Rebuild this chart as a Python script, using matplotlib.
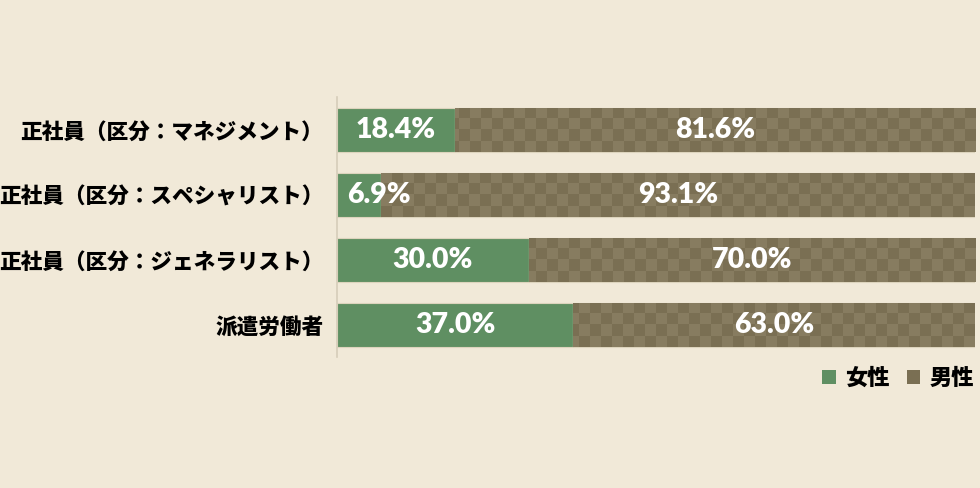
import matplotlib
matplotlib.use('Agg')
import matplotlib.pyplot as plt
import numpy as np

plt.rcParams['font.family'] = ['Noto Sans CJK JP', 'DejaVu Sans']

# データ
categories = ['正社員（区分：マネジメント）', '正社員（区分：スペシャリスト）',
              '正社員（区分：ジェネラリスト）', '派遣労働者']
female = [18.4, 6.9, 30.0, 37.0]
male = [81.6, 93.1, 70.0, 63.0]
series_names = ['女性', '男性']

bg = '#f1e9d8'
green = '#5f8f62'
dark = '#7a6f53'
light = '#877c60'

fig = plt.figure(figsize=(9.8, 4.88), dpi=100, facecolor=bg)
ax = fig.add_axes([0.344, 0.268, 0.651, 0.533], facecolor=bg)

y = np.arange(len(categories))[::-1]
h = 0.68
bars_f = ax.barh(y, female, height=h, color=green, edgecolor='#ddd4bd', linewidth=0.8, label=series_names[0])
bars_m = ax.barh(y, male, left=female, height=h, color=light, edgecolor='#ddd4bd', linewidth=0.8, label=series_names[1])

# 男性のバーは市松模様
nx, ny = 58, 24
checker = (np.add.outer(np.arange(ny), np.arange(nx)) % 2).astype(float)
cmap = matplotlib.colors.ListedColormap([dark, light])
for b in bars_m:
    im = ax.imshow(checker, cmap=cmap, extent=(0, 100, -0.5, 3.5), aspect='auto',
                   interpolation='nearest', zorder=b.get_zorder() + 0.1)
    im.set_clip_path(b)

num_font = dict(color='white', fontsize=20.5, fontweight='heavy',
                family=['Lato', 'DejaVu Sans'], va='center', zorder=5)
for yi, f, m in zip(y, female, male):
    if f < 10:
        ax.text(1.6, yi, f'{f:.1f}%', ha='left', **num_font)
    else:
        ax.text(f / 2, yi, f'{f:.1f}%', ha='center', **num_font)
    ax.text(f + m / 2, yi, f'{m:.1f}%', ha='center', **num_font)

ax.set_xlim(0, 100)
ax.set_ylim(-0.5, 3.5)
ax.set_yticks(y)
ax.set_yticklabels(categories, fontsize=15.6, fontweight='heavy')
ax.set_xticks([])
ax.tick_params(axis='y', length=0, pad=10)
for s in ['top', 'right', 'bottom']:
    ax.spines[s].set_visible(False)
ax.spines['left'].set_color('#d6cdb9')
ax.spines['left'].set_linewidth(1.2)

h1 = matplotlib.patches.Patch(facecolor=green, edgecolor='none')
h2 = matplotlib.patches.Patch(facecolor=dark, edgecolor='none')
leg = fig.legend([h1, h2], series_names, loc='center right', bbox_to_anchor=(1.014, 0.225),
                 ncol=2, frameon=False, handlelength=0.6, handleheight=0.6,
                 handletextpad=0.4, columnspacing=0.8,
                 prop={'family': 'Noto Sans CJK JP', 'weight': 'heavy', 'size': 16})

fig.savefig('out.png', dpi=100, facecolor=bg)
